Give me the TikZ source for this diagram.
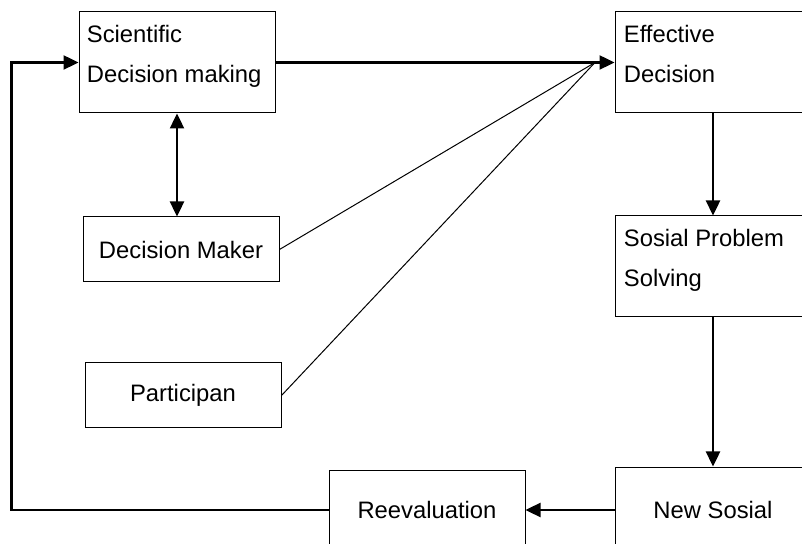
\documentclass[tikz,border=0pt]{standalone}
\usepackage{fontspec}
\setmainfont{Liberation Sans}
\usetikzlibrary{arrows.meta}
\begin{document}
\begin{tikzpicture}[x=0.5pt,y=-0.5pt,
		font=\fontsize{11.9}{20.2}\selectfont,
		>={Triangle[length=7.5pt,width=7pt]},
		box/.style={draw=black,line width=0.5pt,minimum width=98pt,minimum height=50.5pt,inner sep=0pt},
		smallbox/.style={box,minimum height=32.5pt},
		txt/.style={anchor=base west,inner sep=0pt,align=left},
		flow/.style={line width=1.2pt,->},
		feed/.style={line width=0.5pt}]
		\clip (0,0) rectangle (802,544);
		\node [box] (sci) at (177,62.5) {};
		\node [txt] at ([shift={(8,71.3)}]sci.north west) {Scientific\\Decision making};
		\node [box] (eff) at (713,62.5) {};
		\node [txt] at ([shift={(9,71.3)}]eff.north west) {Effective\\Decision};
		\node [smallbox] (dm) at (181,249.5) {Decision Maker};
		\node [smallbox] (par) at (183,395.5) {Participan};
		\node [box] (sps) at (713,266.5) {};
		\node [txt] at ([shift={(9,71.3)}]sps.north west) {Sosial Problem\\Solving};
		\node [box,minimum height=43pt] (nsos) at (713,510) {New Sosial};
		\node [box,minimum height=40pt] (reev) at (427,510) {Reevaluation};
		\coordinate (meet) at (595,62.5);
		\draw [flow] (sci.east) -- (eff.west);
		\draw [flow,<->] (sci.south) -- (sci.south |- dm.north);
		\draw [feed] (dm.east) -- (meet);
		\draw [feed] (par.east) -- (meet);
		\draw [flow] (eff.south) -- (sps.north);
		\draw [flow] (sps.south) -- (nsos.north);
		\draw [flow] (nsos.west) -- (reev.east);
		\draw [flow] (reev.west) -- ++(-317,0) |- (sci.west);
\end{tikzpicture}
\end{document}
